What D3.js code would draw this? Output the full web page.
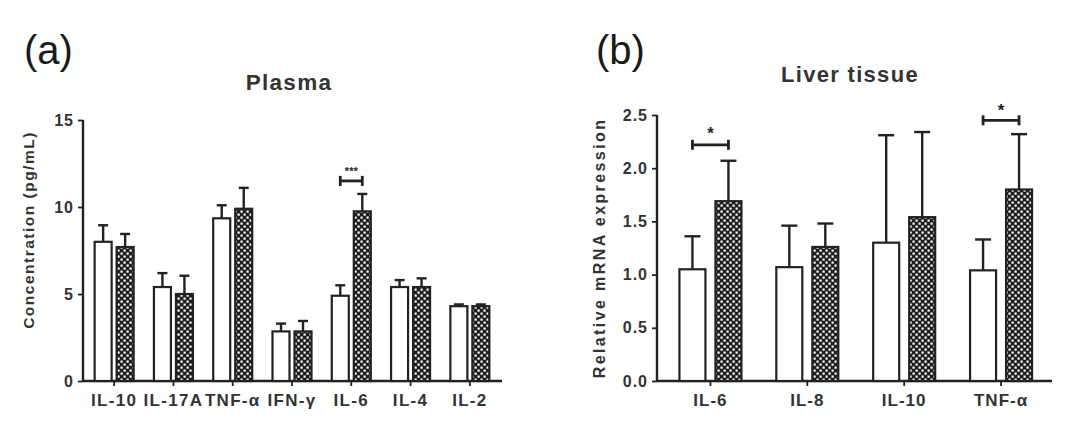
<!DOCTYPE html>
<html><head><meta charset="utf-8">
<script src="https://cdn.jsdelivr.net/npm/d3@7"></script>
<style>body{margin:0;background:#fff}svg{display:block}text{font-family:"Liberation Sans",Arial,sans-serif;fill:#222}</style>
</head><body>
<svg id="c" width="1080" height="430"></svg>
<script>
// Panel (a) Plasma
const catsA = ["IL-10","IL-17A","TNF-\u03b1","IFN-\u03b3","IL-6","IL-4","IL-2"];
const ctrlA = [8.0,5.4,9.35,2.85,4.9,5.4,4.3];
const ctrlErrA = [0.95,0.8,0.75,0.45,0.6,0.4,0.1];
const trtA = [7.7,5.0,9.9,2.85,9.75,5.4,4.3];
const trtErrA = [0.75,1.05,1.2,0.6,1.0,0.5,0.1];
const ticksA = [0,5,10,15];
// Panel (b) Liver tissue
const catsB = ["IL-6","IL-8","IL-10","TNF-\u03b1"];
const ctrlB = [1.05,1.07,1.30,1.04];
const ctrlErrB = [0.31,0.39,1.01,0.29];
const trtB = [1.69,1.26,1.54,1.80];
const trtErrB = [0.38,0.22,0.80,0.52];
const ticksB = [0,0.5,1.0,1.5,2.0,2.5];

const svg = d3.select("#c");
const defs = svg.append("defs");
const pat = defs.append("pattern").attr("id","chk").attr("patternUnits","userSpaceOnUse")
  .attr("width",6).attr("height",6);
pat.append("rect").attr("width",6).attr("height",6).attr("fill","#1e1e1e");
pat.append("rect").attr("x",0.5).attr("y",0.5).attr("width",2.2).attr("height",2.2).attr("fill","#fff");
pat.append("rect").attr("x",3.5).attr("y",3.5).attr("width",2.2).attr("height",2.2).attr("fill","#fff");

const ink = "#222";

function panel(o){
  const g = svg.append("g");
  const x = d3.scaleBand().domain(o.cats).range([o.x0,o.x1]);
  const y = d3.scaleLinear().domain([0,o.ymax]).range([o.yb,o.yt]);
  const bw = o.bw, gap = o.gap;
  const ya = g.append("g").attr("transform",`translate(${o.ax},0)`)
    .call(d3.axisLeft(y).tickValues(o.ticks).tickSize(5).tickPadding(4).tickFormat(o.fmt));
  ya.select(".domain").attr("stroke",ink).attr("stroke-width",2.4).attr("d",`M0,${o.yt}V${o.yb}`);
  ya.selectAll(".tick line").attr("stroke",ink).attr("stroke-width",1.8);
  ya.selectAll(".tick text").attr("font-size",16).attr("font-weight","bold")
    .attr("letter-spacing",1).style("fill","#333");
  const xa = g.append("g").attr("transform",`translate(0,${o.yb})`)
    .call(d3.axisBottom(x).tickSize(5).tickPadding(8));
  xa.select(".domain").attr("stroke",ink).attr("stroke-width",2.4).attr("d",`M${o.ax},0H${o.axEnd}`);
  xa.selectAll(".tick line").attr("stroke",ink).attr("stroke-width",1.8);
  xa.selectAll(".tick text").attr("font-size",17).attr("font-weight","bold")
    .attr("letter-spacing",o.xls).style("fill","#333");
  const cx = c => x(c)+x.bandwidth()/2;
  o.cats.forEach((c,i)=>{
    const xc = cx(c)-gap/2-bw, xt = cx(c)+gap/2;
    [[xc,o.ctrl[i],o.ctrlErr[i],"#fff"],[xt,o.trt[i],o.trtErr[i],"url(#chk)"]].forEach(([bx,v,e,f])=>{
      const mid = bx+bw/2;
      g.append("line").attr("x1",mid).attr("x2",mid).attr("y1",y(v)).attr("y2",y(v+e))
        .attr("stroke",ink).attr("stroke-width",2.4);
      g.append("line").attr("x1",mid-o.cap).attr("x2",mid+o.cap).attr("y1",y(v+e)).attr("y2",y(v+e))
        .attr("stroke",ink).attr("stroke-width",2.4);
      g.append("rect").attr("x",bx).attr("y",y(v)).attr("width",bw).attr("height",y(0)-y(v))
        .attr("fill",f).attr("stroke",ink).attr("stroke-width",2.2);
    });
  });
  o.sig.forEach(s=>{
    const c = s.cat, x1 = cx(c)-gap/2-bw/2, x2 = cx(c)+gap/2+bw/2, yy = y(s.v);
    g.append("line").attr("x1",x1).attr("x2",x2).attr("y1",yy).attr("y2",yy).attr("stroke",ink).attr("stroke-width",2.8);
    [x1,x2].forEach(xx=>g.append("line").attr("x1",xx).attr("x2",xx).attr("y1",yy-5).attr("y2",yy+5).attr("stroke",ink).attr("stroke-width",2.8));
    g.append("text").attr("x",(x1+x2)/2).attr("y",yy-s.dy).attr("text-anchor","middle")
      .attr("font-size",s.fs).attr("font-weight","bold").text(s.t);
  });
  g.append("text").attr("x",o.tx).attr("y",o.ty).attr("text-anchor","middle").attr("font-size",o.tfs)
    .attr("font-weight","bold").attr("letter-spacing",1.3).style("fill","#333").text(o.title);
  g.append("text").attr("x",o.lx).attr("y",64).attr("font-size",40).style("fill","#1a1a1a").text(o.label);
  g.append("text").attr("transform",`translate(${o.ytx},${o.yty}) rotate(-90)`).attr("text-anchor","middle")
    .attr("font-size",o.yfs).attr("font-weight","bold").attr("letter-spacing",o.yls).style("fill","#333").text(o.ytitle);
}

panel({cats:catsA,ctrl:ctrlA,ctrlErr:ctrlErrA,trt:trtA,trtErr:trtErrA,ticks:ticksA,fmt:d3.format("d"),
  x0:84.5,x1:499.5,ax:83,axEnd:502,yb:381,yt:120,ymax:15,bw:17,gap:5,cap:5,xls:1.3,
  sig:[{cat:"IL-6",v:11.5,t:"***",dy:6,fs:11}],
  title:"Plasma",tx:289,ty:90,tfs:22.5,label:"(a)",lx:24,ytitle:"Concentration (pg/mL)",ytx:34,yty:230,yfs:15.5,yls:1.5});
panel({cats:catsB,ctrl:ctrlB,ctrlErr:ctrlErrB,trt:trtB,trtErr:trtErrB,ticks:ticksB,fmt:d3.format(".1f"),
  x0:662,x1:1049.5,ax:657,axEnd:1052,yb:381,yt:115,ymax:2.5,bw:26,gap:10,cap:8,xls:1,
  sig:[{cat:"IL-6",v:2.22,t:"*",dy:6,fs:17},{cat:"TNF-\u03b1",v:2.45,t:"*",dy:4,fs:17}],
  title:"Liver tissue",tx:850,ty:82,tfs:22,label:"(b)",lx:596,ytitle:"Relative mRNA expression",ytx:605,yty:248,yfs:16,yls:2.4});
</script>
</body></html>
